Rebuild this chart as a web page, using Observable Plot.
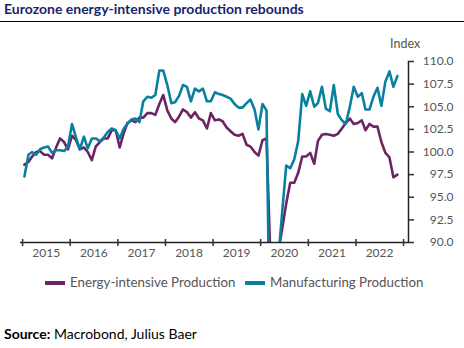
<!DOCTYPE html>
<html><head><meta charset="utf-8">
<script src="https://cdn.jsdelivr.net/npm/d3@7"></script>
<script src="https://cdn.jsdelivr.net/npm/@observablehq/plot@0.6"></script>
<style>
body{margin:0;background:#fff;font-family:Lato,sans-serif}
#wrap{position:relative;width:464px;height:348px;overflow:hidden;background:#fff}
#chart{position:absolute;left:0;top:0}
#title{position:absolute;left:4px;top:1px;font-weight:700;font-size:14px;line-height:1.2;color:#1a1f6e;white-space:nowrap}
#rule{position:absolute;left:0;top:21px;width:464px;height:0;border-top:1.5px solid #000}
#ylab{position:absolute;left:390px;top:36px;font-size:12.5px;line-height:1.2;color:#555}
.leg{position:absolute;top:274px;font-size:13.3px;line-height:16px;color:#555;white-space:nowrap}
.sw{display:inline-block;width:20px;height:4px;vertical-align:middle;margin-right:5px;position:relative;top:-1px}
#source{position:absolute;left:4px;top:326px;font-size:14px;line-height:1.2;color:#000;white-space:nowrap}
</style>
</head><body>
<div id="wrap">
<div id="chart"></div>
<div id="title">Eurozone energy-intensive production rebounds</div>
<div id="rule"></div>
<div id="ylab">Index</div>
<div class="leg" style="left:45px"><span class="sw" id="sw1"></span>Energy-intensive Production</div>
<div class="leg" style="left:245px"><span class="sw" id="sw2"></span>Manufacturing Production</div>
<div id="source"><b>Source:</b> Macrobond, Julius Baer</div>
</div>
<script>
// Monthly series, Jan 2015 .. Nov 2022
const startYear = 2015;
const energyIntensive = [
  98.6, 98.9, 99.5, 100.0, 100.1, 99.7, 99.7, 99.3, 100.5, 101.5, 101.1, 100.3,
  101.8, 101.3, 100.3, 100.5, 100.0, 99.1, 100.6, 101.1, 101.5, 101.5, 102.4, 102.4,
  100.5, 102.1, 103.2, 103.5, 103.3, 103.8, 103.8, 104.3, 104.3, 104.1, 105.3, 106.3,
  104.6, 103.7, 103.3, 103.9, 104.7, 104.4, 103.8, 104.4, 103.7, 103.5, 102.6, 104.3,
  103.5, 103.6, 103.4, 102.7, 102.3, 101.9, 101.8, 102.0, 100.8, 100.6, 100.0, 99.6,
  101.3, 101.5, 88.5, 72.0, 88.9, 91.6, 94.3, 96.6, 96.6, 97.7, 99.5, 99.5,
  99.9, 98.7, 101.2, 101.9, 102.0, 101.9, 101.8, 102.0, 102.6, 103.2, 103.7, 103.1,
  103.2, 103.5, 102.4, 103.1, 102.8, 102.8, 101.1, 99.9, 99.4, 97.2, 97.5
];
const manufacturing = [
  97.3, 99.7, 100.0, 99.7, 100.3, 100.5, 100.6, 99.9, 100.2, 100.2, 100.1, 100.6,
  103.1, 101.6, 100.3, 101.7, 100.4, 101.5, 101.5, 101.2, 101.6, 102.2, 102.6, 102.4,
  101.5, 102.6, 103.1, 103.6, 103.7, 103.3, 105.6, 106.1, 106.0, 106.3, 109.0, 109.0,
  107.4, 105.4, 105.5, 106.2, 107.4, 107.2, 105.6, 107.0, 106.7, 107.0, 105.6, 105.6,
  106.6, 106.4, 106.3, 106.1, 105.9, 105.3, 104.9, 104.9, 105.4, 105.8, 104.7, 102.5,
  105.3, 104.6, 75.0, 72.0, 88.2, 93.5, 98.5, 98.2, 99.2, 101.2, 106.4, 105.1,
  106.7, 105.0, 105.4, 107.2, 104.8, 104.5, 107.4, 104.2, 103.5, 103.1, 105.0, 107.2,
  106.1, 106.5, 104.7, 104.7, 106.1, 107.1, 105.1, 107.8, 108.9, 107.2, 108.4
];
const years = [2015, 2016, 2017, 2018, 2019, 2020, 2021, 2022, 2023];
const labelYears = [2015, 2016, 2017, 2018, 2019, 2020, 2021, 2022];
const yTicks = [90, 92.5, 95, 97.5, 100, 102.5, 105, 107.5, 110];
const seriesNames = ["Energy-intensive Production", "Manufacturing Production"];
const colors = ["#6c2563", "#0a80a0"];

const rows = energyIntensive.map((v, i) => ({
  date: new Date(Date.UTC(startYear, i, 15)),
  energy: v,
  mfg: manufacturing[i]
}));
const yearStarts = years.map(y => new Date(Date.UTC(y, 0, 1)));
const yearMids = labelYears.map(y => new Date(Date.UTC(y, 6, 1)));

document.getElementById("sw1").style.background = colors[0];
document.getElementById("sw2").style.background = colors[1];

const plot = Plot.plot({
  width: 464, height: 348,
  marginTop: 61, marginBottom: 106, marginLeft: 20, marginRight: 56,
  style: {fontFamily: "Lato, sans-serif", fontSize: "12px", color: "#555", background: "transparent", overflow: "visible"},
  x: {type: "utc", domain: [new Date(Date.UTC(2014, 11, 16)), new Date(Date.UTC(2023, 1, 8))], label: null},
  y: {domain: [90, 110], label: null},
  marks: [
    Plot.line(rows, {x: "date", y: "energy", stroke: colors[0], strokeWidth: 2.6, clip: true}),
    Plot.line(rows, {x: "date", y: "mfg", stroke: colors[1], strokeWidth: 2.6, clip: true}),
    Plot.ruleY([90], {stroke: "#222", strokeWidth: 1.5}),
    Plot.frame({anchor: "right", stroke: "#222", strokeWidth: 1.5}),
    Plot.axisX({ticks: yearStarts, tickSize: 7, dy: -3, tickFormat: () => "", stroke: "#333", strokeWidth: 1.5}),
    Plot.axisX({ticks: yearMids, tickSize: 0, tickPadding: 6, tickFormat: d3.utcFormat("%Y"), fill: "#555"}),
    Plot.axisY({anchor: "right", ticks: yTicks, tickSize: 5, tickPadding: 40, textAnchor: "end", tickFormat: d3.format(".1f"), stroke: "#333", strokeWidth: 1.5, fill: "#555"})
  ]
});
document.getElementById("chart").appendChild(plot);
</script>
</body></html>
